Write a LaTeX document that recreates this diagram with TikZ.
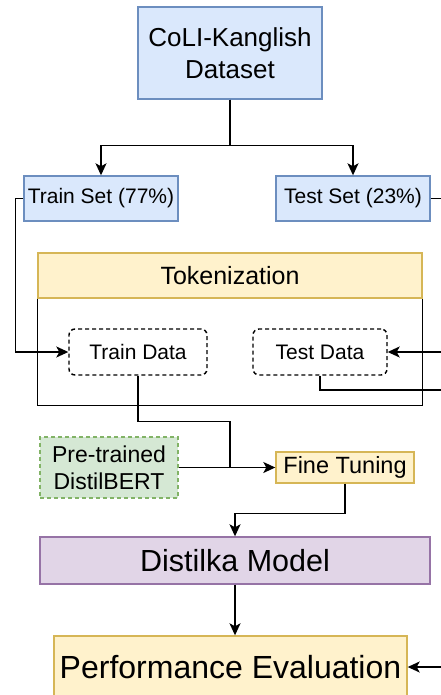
\documentclass[tikz,border=0pt]{standalone}
\usepackage{fontspec}
\setmainfont{Liberation Sans}
\usetikzlibrary{arrows.meta}
\definecolor{blueFill}{HTML}{DAE8FC}
\definecolor{blueLine}{HTML}{6C8EBF}
\definecolor{yellowFill}{HTML}{FFF2CC}
\definecolor{yellowLine}{HTML}{D6B656}
\definecolor{greenFill}{HTML}{D5E8D4}
\definecolor{greenLine}{HTML}{82B366}
\definecolor{purpleFill}{HTML}{E1D5E7}
\definecolor{purpleLine}{HTML}{9673A6}
\begin{document}
\begin{tikzpicture}[x=1pt,y=-1pt,
    box/.style={draw, line width=1.4pt, inner sep=0pt, align=center},
    dbox/.style={box, dash pattern=on 4pt off 3pt, rounded corners=6pt},
    ln/.style={line width=1.5pt},
    arr/.style={ln, -{Stealth[length=12pt,width=11pt,inset=3pt]}}]
  \useasboundingbox (0,0) rectangle (441,695);
  \clip (0,0) rectangle (441,695);
  % boxes
  \node[box, draw=blueLine, fill=blueFill, minimum width=184pt, minimum height=92pt,
        font=\fontsize{26}{32}\selectfont] (dataset) at (230,53) {CoLI-Kanglish\\Dataset};
  \node[box, draw=blueLine, fill=blueFill, minimum width=154pt, minimum height=45pt,
        font=\fontsize{21}{25}\selectfont] (trainset) at (101,198.5) {Train Set (77\%)};
  \node[box, draw=blueLine, fill=blueFill, minimum width=154pt, minimum height=45pt,
        font=\fontsize{21}{25}\selectfont] (testset) at (353,198.5) {Test Set (23\%)};
  \node[box, draw=yellowLine, fill=yellowFill, minimum width=384pt, minimum height=45pt,
        font=\fontsize{25}{30}\selectfont] (tokhead) at (230,275.5) {Tokenization};
  \draw[ln] (tokhead.south west) -- ++(0,107) -| (tokhead.south east);
  \node[dbox, minimum width=138pt, minimum height=46pt,
        font=\fontsize{21}{25}\selectfont] (traindata) at (138,352) {Train Data};
  \node[dbox, minimum width=134pt, minimum height=46pt,
        font=\fontsize{21}{25}\selectfont] (testdata) at (320,352) {Test Data};
  \node[box, draw=greenLine, fill=greenFill, dash pattern=on 4pt off 3pt,
        minimum width=138pt, minimum height=61pt,
        font=\fontsize{23}{27}\selectfont] (pretrained) at (109,467.5) {Pre-trained\\DistilBERT};
  \node[box, draw=yellowLine, fill=yellowFill, minimum width=138pt, minimum height=31pt,
        font=\fontsize{23.5}{28}\selectfont] (finetune) at (345,467.5) {Fine Tuning};
  \node[box, draw=purpleLine, fill=purpleFill, minimum width=390pt, minimum height=47pt,
        font=\fontsize{30.5}{36}\selectfont] (model) at (235,560.5) {Distilka Model};
  \node[box, draw=yellowLine, fill=yellowFill, minimum width=353pt, minimum height=62pt,
        font=\fontsize{32}{38}\selectfont] (perf) at (230.5,667) {Performance Evaluation};
  % free ends past the right edge
  \coordinate (tsout) at (450,198.5);
  \coordinate (tdin) at (450,352);
  \coordinate (tdout) at (450,390);
  \coordinate (perfin) at (450,667);
  \coordinate (join) at (230,467.5);
  % connectors
  \draw[arr] (dataset.south) -- ++(0,46) -| (trainset.north);
  \draw[arr] (dataset.south) -- ++(0,46) -| (testset.north);
  \draw[arr] (trainset.west) -- ++(-8,0) |- (traindata.west);
  \draw[ln] (testset.east) -- (tsout);
  \draw[arr] (tdin) -- (testdata.east);
  \draw[ln] (testdata.south) |- (tdout);
  \draw[ln] (traindata.south) -- ++(0,46) -| (join);
  \draw[arr] (pretrained.east) -- (finetune.west);
  \draw[arr] (finetune.south) -- ++(0,30) -| (model.north);
  \draw[arr] (model.south) -- (model.south |- perf.north);
  \draw[arr] (perfin) -- (perf.east);
\end{tikzpicture}
\end{document}
